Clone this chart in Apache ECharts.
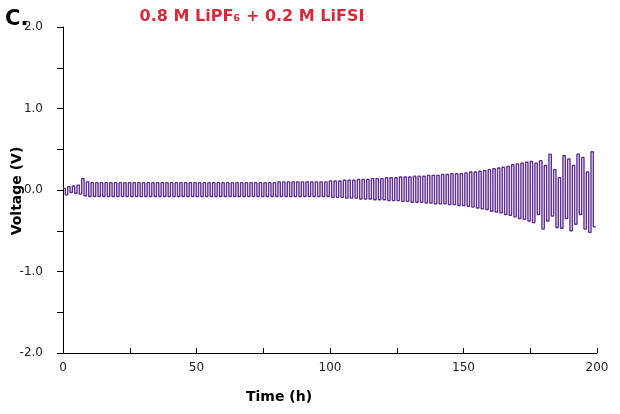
<!DOCTYPE html>
<html><head><meta charset="utf-8">
<script src="https://cdn.jsdelivr.net/npm/echarts@6/dist/echarts.min.js"></script>
<style>html,body{margin:0;padding:0;background:#fff}#c{width:620px;height:414px}</style>
</head><body><div id="c"></div>
<script>
// ---- data ----
const cycleHours = 1.75; // duration of one charge/discharge cycle (h)
const upperPeaks = [
 0.02,0.04,0.05,0.06,0.14,0.10,
 0.09,0.09,0.09,0.09,0.09,0.09,0.09,0.09,0.09,0.09,0.09,0.09,0.09,0.09,0.09,
 0.09,0.09,0.09,0.09,0.09,0.09,0.09,0.09,0.09,0.09,0.09,0.09,0.09,0.09,0.09,
 0.09,0.09,0.09,0.09,0.09,0.09,0.09,0.09,0.09,0.09,
 0.10,0.10,0.10,0.10,0.10,0.10,0.10,0.10,0.10,0.10,
 0.10,0.11,0.11,0.11,0.12,0.12,0.12,0.13,0.13,0.13,
 0.14,0.14,0.14,0.15,0.15,0.15,0.16,0.16,0.16,0.17,
 0.17,0.17,0.18,0.18,0.18,0.19,0.19,0.20,0.20,0.20,
 0.21,0.22,0.22,0.23,0.24,0.25,0.26,0.27,0.28,0.29,
 0.31,0.32,0.33,0.34,0.35,0.33,0.36,0.30,0.44,0.25,
 0.15,0.42,0.38,0.30,0.44,0.40,0.22,0.47
];
const lowerPeaks = [
 -0.06,-0.03,-0.04,-0.05,-0.07,-0.08,
 -0.08,-0.08,-0.08,-0.08,-0.08,-0.08,-0.08,-0.08,-0.08,-0.08,
 -0.08,-0.08,-0.08,-0.08,-0.08,-0.08,-0.08,-0.08,-0.08,-0.08,
 -0.08,-0.08,-0.08,-0.08,-0.08,-0.08,-0.08,-0.08,-0.08,-0.08,
 -0.08,-0.08,-0.08,-0.08,-0.08,-0.08,-0.08,-0.08,-0.08,-0.08,
 -0.08,-0.08,-0.08,-0.08,-0.08,-0.08,-0.08,-0.08,-0.08,-0.08,
 -0.08,-0.09,-0.09,-0.09,-0.10,-0.10,-0.10,-0.11,-0.11,-0.11,
 -0.12,-0.12,-0.12,-0.13,-0.13,-0.13,-0.14,-0.14,-0.15,-0.15,
 -0.15,-0.16,-0.16,-0.17,-0.17,-0.17,-0.18,-0.18,-0.19,-0.19,
 -0.20,-0.21,-0.22,-0.23,-0.24,-0.26,-0.27,-0.28,-0.30,-0.31,
 -0.33,-0.35,-0.36,-0.38,-0.40,-0.30,-0.48,-0.38,-0.32,-0.46,
 -0.47,-0.35,-0.50,-0.42,-0.30,-0.48,-0.52,-0.45
];
const xTicks = [0, 50, 100, 150, 200];
const yTicks = [-2, -1, 0, 1, 2];
const titleText = '0.8 M LiPF\u2086 + 0.2 M LiFSI';

// ---- build the series from the arrays ----
const pts = [];
const n = Math.min(upperPeaks.length, lowerPeaks.length);
for (let i = 0; i < n; i++) {
  const t0 = i * cycleHours, h = cycleHours / 2;
  pts.push([t0, upperPeaks[i]], [t0 + h, upperPeaks[i]]);
  pts.push([t0 + h, lowerPeaks[i]], [t0 + 2 * h, lowerPeaks[i]]);
}

const font = 'DejaVu Sans, Verdana, sans-serif';
const chart = echarts.init(document.getElementById('c'), null, {renderer: 'canvas'});
chart.setOption({
  animation: false,
  grid: {left: 63, right: 23, top: 27, bottom: 61, containLabel: false},
  xAxis: {
    type: 'value', min: xTicks[0], max: xTicks[xTicks.length - 1], interval: 50,
    axisLine: {onZero: false, lineStyle: {color: '#000', width: 1}},
    axisTick: {show: true, inside: true, length: 5, lineStyle: {color: '#000'}},
    minorTick: {show: true, splitNumber: 2, length: 5, lineStyle: {color: '#000'}},
    splitLine: {show: false},
    axisLabel: {color: '#222', fontFamily: font, fontSize: 12, margin: 9}
  },
  yAxis: {
    type: 'value', min: yTicks[0], max: yTicks[yTicks.length - 1], interval: 1,
    axisLine: {show: true, onZero: false, lineStyle: {color: '#000', width: 1}},
    axisTick: {show: true, inside: false, length: 6, lineStyle: {color: '#000'}},
    minorTick: {show: true, splitNumber: 2, length: 6, lineStyle: {color: '#000'}},
    splitLine: {show: false},
    axisLabel: {color: '#222', fontFamily: font, fontSize: 12, margin: 20,
      formatter: v => v.toFixed(1)}
  },
  graphic: [
    {type: 'text', left: 5, top: 9, style: {text: 'C.', font: 'bold 21px ' + font, fill: '#000'}},
    {type: 'text', x: 252, y: 17, style: {text: titleText, font: 'bold 16px ' + font, fill: '#d42a3a', align: 'center', verticalAlign: 'middle'}},
    {type: 'text', x: 279, y: 397, style: {text: 'Time (h)', font: 'bold 14px ' + font, fill: '#000', align: 'center', verticalAlign: 'middle'}},
    {type: 'text', x: 17, y: 191, rotation: Math.PI / 2, style: {text: 'Voltage (V)', font: 'bold 14px ' + font, fill: '#000', align: 'center', verticalAlign: 'middle'}}
  ],
  series: [{
    type: 'line', data: pts, showSymbol: false, symbol: 'none',
    lineStyle: {color: '#5e2d91', width: 1.4}, clip: true
  }]
});
</script></body></html>
